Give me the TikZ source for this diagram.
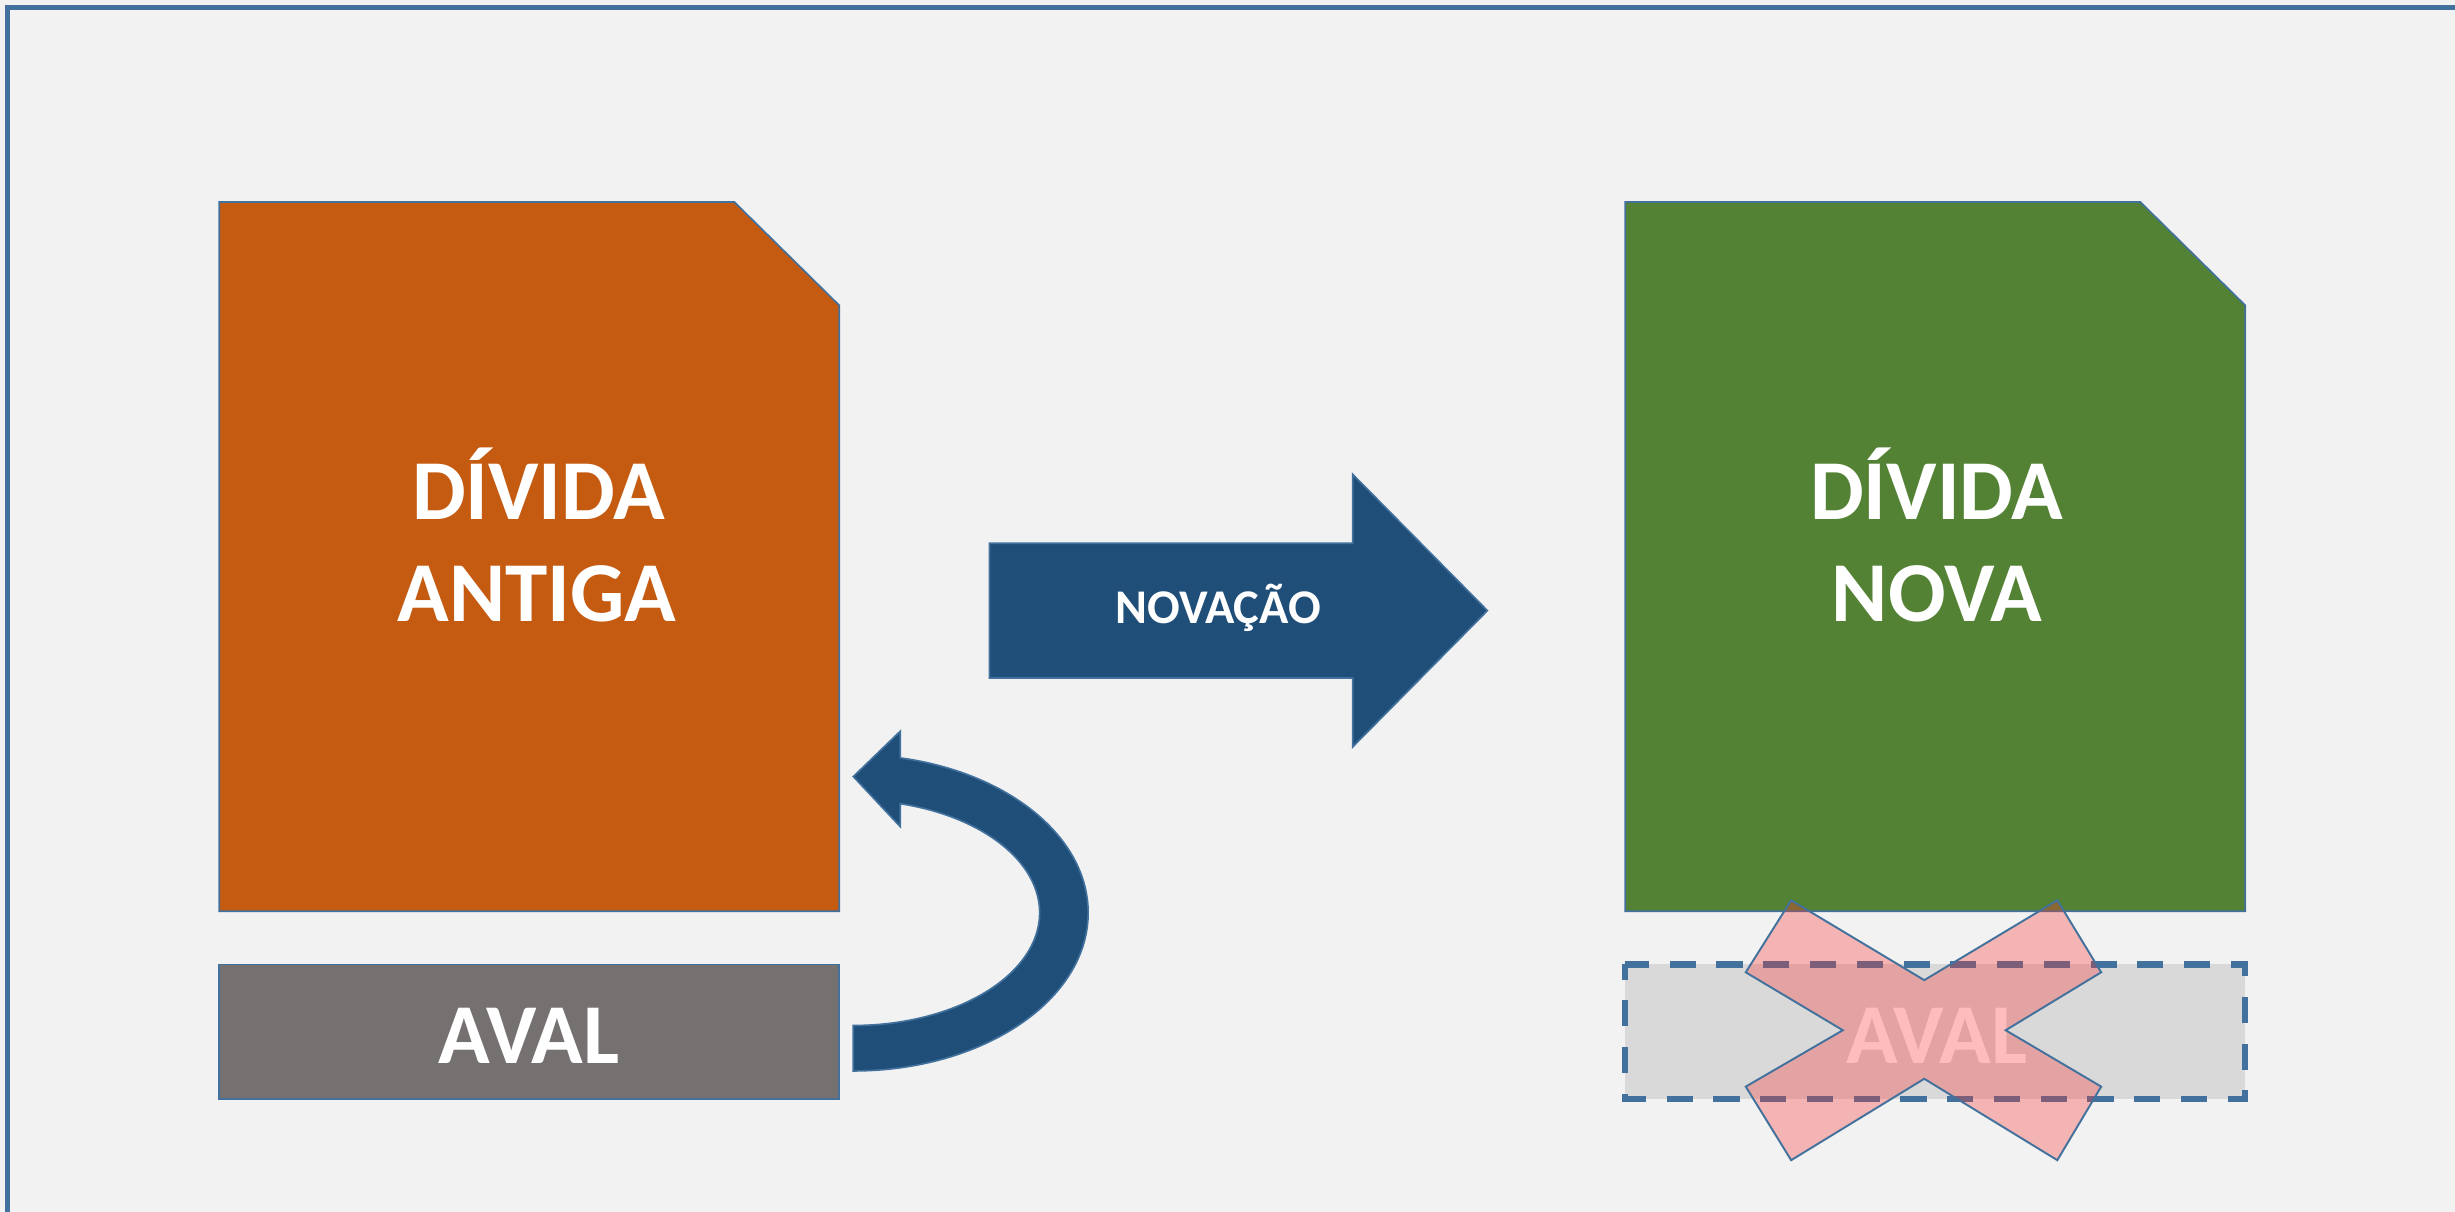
\documentclass[tikz,border=0pt]{standalone}
\usepackage{fontspec}
\setmainfont{Carlito}
\definecolor{bgc}{HTML}{F2F2F2}
\definecolor{edge}{HTML}{41719C}
\definecolor{oldc}{HTML}{C55A11}
\definecolor{newc}{HTML}{548235}
\definecolor{avalc}{HTML}{767171}
\definecolor{navy}{HTML}{1F4E79}
\definecolor{ghost}{HTML}{D9D9D9}
\definecolor{crossc}{HTML}{FB3333}
\tikzset{
  docshape/.style={draw=edge, line width=0.6pt, line join=miter},
  bigtxt/.style={text=white, font=\bfseries\fontsize{31}{37}\selectfont, inner sep=0pt, anchor=base},
  midtxt/.style={text=white, font=\bfseries\fontsize{17.6}{21}\selectfont, inner sep=0pt, anchor=base},
  ghostbox/.style={draw=edge, line width=2.2pt, dash pattern=on 9.5pt off 7.5pt, dash phase=4pt},
  crossshape/.style={fill=crossc, fill opacity=0.32, draw=edge, line width=0.7pt},
}
\begin{document}
\begin{tikzpicture}[x=0.02cm, y=-0.02cm]
\useasboundingbox (0,0) rectangle (1568,774);
\clip (0,0) rectangle (1568,774);
\fill[bgc] (0,0) rectangle (1568,774);
\draw[edge, line width=1.9pt] (4.8,4.9) rectangle (1580,790);

% old debt document
\draw[docshape, fill=oldc] (140,129) -- (469,129) -- (536,195) -- (536,582) -- (140,582) -- cycle;
\node[bigtxt] (old1) at (344,332) {DÍVIDA};
\node[bigtxt] (old2) at (343,397) {ANTIGA};

% aval box
\draw[docshape, fill=avalc] (140,616) rectangle (536,702);
\node[bigtxt] (aval1) at (338,679) {AVAL};

% novacao arrow
\draw[docshape, fill=navy] (632,347) -- (864,347) -- (864,303) -- (950,390) -- (864,477) -- (864,433) -- (632,433) -- cycle;
\node[midtxt] (nov) at (778,398) {NOVAÇÃO};

% new debt document
\draw[docshape, fill=newc] (1038,129) -- (1367,129) -- (1434,195) -- (1434,582) -- (1038,582) -- cycle;
\node[bigtxt] (new1) at (1237,332) {DÍVIDA};
\node[bigtxt] (new2) at (1237,397) {NOVA};

% curved arrow
\draw[docshape, fill=navy] (545,684) arc[start angle=90, end angle=-78.46, x radius=150, y radius=101]
  -- (575,467) -- (545,496) -- (575,528) -- (575,513.3)
  arc[start angle=-75.4, end angle=90, x radius=119, y radius=72] -- cycle;

% cancelled aval
\fill[ghost] (1038,616) rectangle (1434,702);
\draw[ghostbox] (1038,616) rectangle (1434,702);
\node[bigtxt] (aval2) at (1237,679) {AVAL};
\draw[crossshape] (1144,575) -- (1229,626) -- (1314,575) -- (1342,621) -- (1281,658) -- (1342,694)
  -- (1314,741) -- (1229,689) -- (1144,741) -- (1115,694) -- (1177,658) -- (1115,621) -- cycle;
\end{tikzpicture}
\end{document}
